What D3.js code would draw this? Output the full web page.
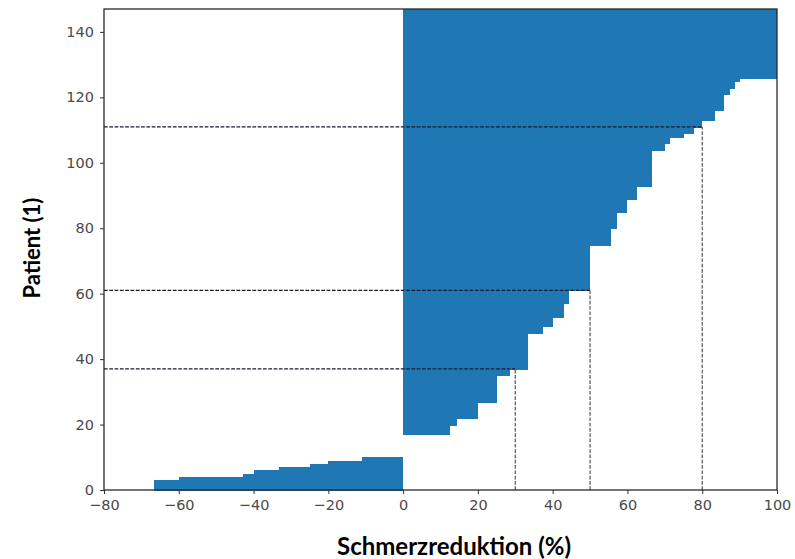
<!DOCTYPE html>
<html lang="en">
<head>
    <meta charset="UTF-8">
    <title>Schmerzreduktion</title>
    <script src="https://cdn.jsdelivr.net/npm/d3@7"></script>
    <style>
        body { margin: 0; background: white; }
        .tick text { font-family: "DejaVu Sans", sans-serif; font-size: 14.5px; fill: #4a4a4a; }
        .axislabel { font-family: Lato, "Open Sans", sans-serif; font-weight: bold; fill: black; }
    </style>
</head>
<body>
<svg id="chart" width="795" height="559"></svg>
<script>
    // pain reduction per patient group (%), sorted ascending, with number of patients per step
    var reductions = [-66.7, -60, -42.9, -40, -33.3, -25, -20, -11.1, 0, 12.5, 14.3, 20, 25, 28.6, 33.3, 37.5, 40,
        42.9, 44.4, 50, 55.6, 57.1, 60, 62.5, 66.7, 70, 71.4, 75, 77.8, 80, 83.3, 85.7, 87.5, 88.9, 90, 100];
    var patientCounts = [3, 1, 1, 1, 1, 1, 1, 1, 7, 3, 2, 5, 8, 2, 11, 2, 3,
        4, 4, 14, 5, 5, 4, 4, 11, 2, 2, 1, 2, 2, 3, 5, 2, 2, 1, 21];
    var thresholds = [30, 50, 80];
    var xTicks = [-80, -60, -40, -20, 0, 20, 40, 60, 80, 100];
    var yTicks = [0, 20, 40, 60, 80, 100, 120, 140];

    // one entry per patient
    var patients = [];
    reductions.forEach(function(v, i) {
        for (var k = 0; k < patientCounts[i]; k++) patients.push(v);
    });

    var margin = {top: 9, right: 18, bottom: 69, left: 104};
    var svg = d3.select("#chart");
    var width = 795 - margin.left - margin.right,
        height = 559 - margin.top - margin.bottom;

    var g = svg.append("g").attr("transform", "translate(" + margin.left + "," + margin.top + ")");

    var x = d3.scaleLinear().domain([-80, 100]).range([0, width]);
    var y = d3.scaleLinear().domain([0, patients.length]).range([height, 0]);

    // bars (crisp edges so neighbouring bars don't show seams)
    g.append("g")
        .attr("shape-rendering", "crispEdges")
        .selectAll("rect")
        .data(patients)
        .enter().append("rect")
        .attr("x", function(d) { return x(Math.min(0, d)); })
        .attr("width", function(d) { return Math.abs(x(d) - x(0)); })
        .attr("y", function(d, i) { return y(i + 1); })
        .attr("height", function(d, i) { return y(i) - y(i + 1) + 1; })
        .attr("fill", "#1f77b4");

    // dashed helper lines: first patient reaching each threshold
    thresholds.forEach(function(t) {
        var idx = patients.findIndex(function(v) { return v >= t; });
        g.append("line")
            .attr("x1", x(-80)).attr("x2", x(t))
            .attr("y1", y(idx)).attr("y2", y(idx))
            .attr("stroke", "#1a1a2e").attr("stroke-width", 1.2)
            .attr("stroke-dasharray", "3.7,1.6");
        g.append("line")
            .attr("x1", x(t)).attr("x2", x(t))
            .attr("y1", y(0)).attr("y2", y(idx))
            .attr("stroke", "#555").attr("stroke-width", 1.2)
            .attr("stroke-dasharray", "3.7,1.6");
    });

    // axes
    var xAxis = g.append("g")
        .attr("transform", "translate(0," + height + ")")
        .call(d3.axisBottom(x).tickValues(xTicks).tickSizeOuter(0).tickSize(4).tickPadding(6));
    var yAxis = g.append("g")
        .call(d3.axisLeft(y).tickValues(yTicks).tickSizeOuter(0).tickSize(4).tickPadding(6));
    xAxis.select(".domain").remove();
    yAxis.select(".domain").remove();
    g.selectAll(".tick line").attr("stroke", "#333");

    // frame
    g.append("rect")
        .attr("x", 0).attr("y", 0)
        .attr("width", width).attr("height", height)
        .attr("fill", "none").attr("stroke", "#2a2a2a").attr("stroke-width", 1.3);

    // axis titles
    svg.append("text")
        .attr("class", "axislabel")
        .attr("text-anchor", "middle")
        .style("font-size", "24px")
        .attr("x", 454).attr("y", 555)
        .text("Schmerzreduktion (%)");
    svg.append("text")
        .attr("class", "axislabel")
        .attr("text-anchor", "middle")
        .style("font-size", "22px")
        .attr("transform", "translate(40,248) rotate(-90)")
        .text("Patient (1)");
</script>
</body>
</html>
